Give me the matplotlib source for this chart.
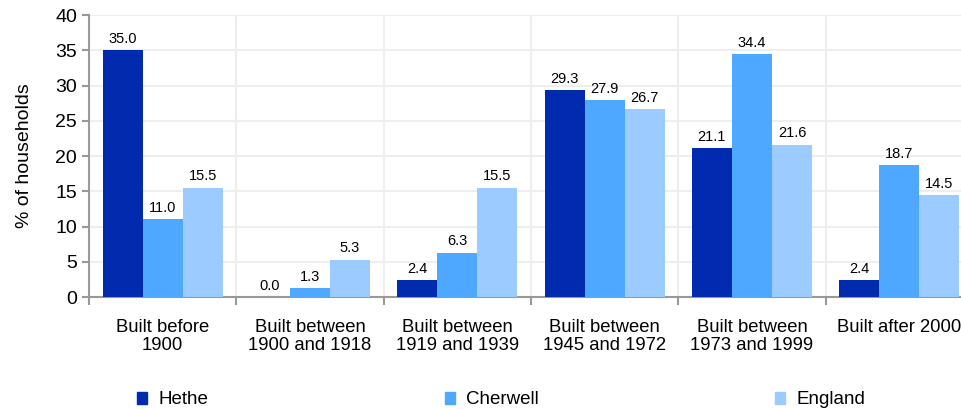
import numpy as np
import matplotlib
matplotlib.use("Agg")
import matplotlib.pyplot as plt
from matplotlib.patches import Patch

plt.rcParams["font.family"] = ["Liberation Sans", "DejaVu Sans"]

# ---------------------------------------------------------------------------
# Data
# ---------------------------------------------------------------------------
categories = ["Built before\n1900", "Built between\n1900 and 1918",
              "Built between\n1919 and 1939", "Built between\n1945 and 1972",
              "Built between\n1973 and 1999", "Built after 2000"]
series_names = ["Hethe", "Cherwell", "England"]
hethe = [35.0, 0.0, 2.4, 29.3, 21.1, 2.4]
cherwell = [11.0, 1.3, 6.3, 27.9, 34.4, 18.7]
england = [15.5, 5.3, 15.5, 26.7, 21.6, 14.5]
colors = ["#002BAE", "#4FA8FF", "#9CCBFF"]

# ---------------------------------------------------------------------------
# Figure
# ---------------------------------------------------------------------------
fig = plt.figure(figsize=(9.62, 4.09), dpi=100)
ax = fig.add_axes([89 / 962, 112 / 409, 884 / 962, 282 / 409])

x = np.arange(len(categories))
w = 0.272
for k, (vals, name, col) in enumerate(zip([hethe, cherwell, england], series_names, colors)):
    pos = x + (k - 1) * w
    ax.bar(pos, vals, width=w, color=col, label=name, zorder=3)
    for xi, v in zip(pos, vals):
        ax.text(xi, v + 0.6, f"{v:.1f}", ha="center", va="bottom", fontsize=10.5, zorder=4)

ax.set_xlim(-0.5, len(categories) - 0.5)
ax.set_ylim(0, 40)
ax.set_yticks(range(0, 41, 5))
ax.tick_params(axis="y", labelsize=14, length=5, color="#999999", width=1.5)

# boundaries between categories get ticks and gridlines, labels sit at centres
ax.set_xticks(np.arange(len(categories) + 1) - 0.5)
ax.set_xticklabels([])
ax.tick_params(axis="x", which="major", length=6, color="#999999", width=1.5)
ax.set_xticks(x, minor=True)
ax.set_xticklabels(categories, minor=True, fontsize=13.3, va="top", linespacing=1.08)
ax.tick_params(axis="x", which="minor", length=0, pad=16)

ax.grid(True, which="major", color="#EEEEEE", linewidth=1.5, zorder=0)
ax.set_axisbelow(True)
for s in ["top", "right"]:
    ax.spines[s].set_visible(False)
for s in ["left", "bottom"]:
    ax.spines[s].set_color("#999999")
    ax.spines[s].set_linewidth(1.5)

ax.set_ylabel("% of households", fontsize=14, labelpad=16)

handles = [Patch(color=c, label=n) for c, n in zip(colors, series_names)]
fig.legend(handles=handles, loc="center left", bbox_to_anchor=(120 / 962, 9 / 409),
           ncol=3, frameon=False, fontsize=13.5, handlelength=0.55, handleheight=0.55,
           handletextpad=0.6, columnspacing=12.6)

fig.savefig("out.png", dpi=100)
